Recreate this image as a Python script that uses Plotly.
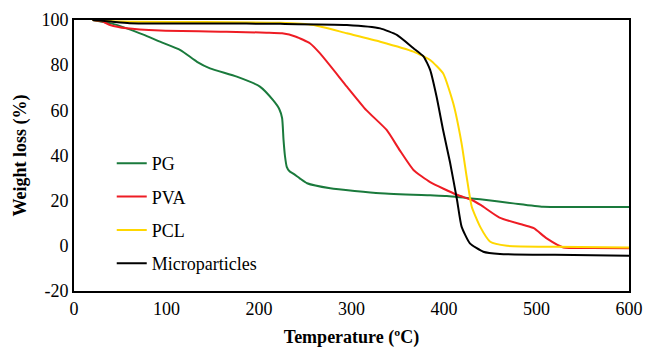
import plotly.graph_objects as go

pg_t = [20, 40, 57, 75, 93, 115, 133, 147, 176, 201, 215, 222, 225, 226.5, 228, 230, 233, 237, 244, 252, 277, 331, 385, 403, 439, 475, 507, 540, 600]
pg_w = [100, 98.5, 96.3, 93.5, 90.4, 86.7, 81.5, 78.6, 74.9, 70.5, 64.6, 60.5, 56.5, 47, 40, 35, 33, 32, 29.9, 27.7, 25.5, 23.3, 22.4, 22.1, 20.6, 18.8, 17.3, 17.2, 17.2]

pva_t = [20, 31, 39, 57, 93, 165, 208, 225, 240, 255, 266, 295, 316, 338, 352, 367, 385, 414, 430, 440, 460, 486, 497, 511, 529, 560, 600]
pva_w = [100, 99.3, 97.8, 96.3, 95.3, 94.8, 94.4, 94.1, 92.6, 89.7, 85.2, 70.5, 60.1, 51.3, 42.4, 33.6, 28.2, 22.6, 20.3, 18, 12.5, 9.2, 7.8, 3.3, -0.7, -1.0, -1.1]

pcl_t = [20, 50, 120, 223, 259, 295, 331, 367, 385, 399, 410, 419, 424.5, 430, 439, 450, 468, 520, 600]
pcl_w = [100, 99.3, 99.1, 98.8, 97.8, 94.1, 90.4, 86, 82.3, 76.4, 63.1, 45.4, 30.6, 17.3, 8.5, 1.8, 0, -0.4, -0.7]

mp_t = [20, 40, 60, 150, 223, 295, 331, 349, 367, 378, 385, 392, 399, 406.5, 414, 419, 428, 442.5, 460.5, 520, 600]
mp_w = [100, 99.3, 98.6, 98.5, 98.3, 97.8, 96.3, 93.4, 87.5, 83.8, 77.9, 66, 51.3, 37, 20.5, 8.5, 1.1, -2.6, -3.6, -4.0, -4.4]

x_ticks = [0, 100, 200, 300, 400, 500, 600]
y_ticks = [-20, 0, 20, 40, 60, 80, 100]
y_tick_text = ["-20", "0", "20", "40", "60", "80", "100"]

series = [
    ("PG", pg_t, pg_w, "#1a7a3c"),
    ("PVA", pva_t, pva_w, "#ee1c24"),
    ("PCL", pcl_t, pcl_w, "#ffd700"),
    ("Microparticles", mp_t, mp_w, "#000000"),
]

fig = go.Figure()
for i, (name, t, w, c) in enumerate(series):
    fig.add_trace(go.Scatter(
        x=t, y=w, name=name, mode="lines",
        line=dict(color=c, width=2, shape="spline", smoothing=0.5),
        legendgroup=f"g{i}",
    ))

ff = "Liberation Serif"

fig.update_layout(
    width=645, height=348,
    margin=dict(l=74, r=16, t=20, b=57),
    paper_bgcolor="white", plot_bgcolor="white",
    font=dict(family=ff, size=18, color="black"),
    showlegend=True,
    legend=dict(
        x=0.068, y=0.539, xanchor="left", yanchor="top",
        bgcolor="rgba(0,0,0,0)", borderwidth=0,
        traceorder="grouped", tracegroupgap=7,
        font=dict(family=ff, size=18, color="black"),
    ),
    xaxis=dict(
        range=[0, 600], tickvals=x_ticks, ticks="", showgrid=False, zeroline=False,
        showline=True, linecolor="black", linewidth=2, mirror=True, automargin=False,
        tickfont=dict(family=ff, size=18),
        title=dict(text="<b>Temperature (ºC)</b>", font=dict(family=ff, size=18), standoff=16),
    ),
    yaxis=dict(
        range=[-20, 100], tickvals=y_ticks, ticktext=y_tick_text, ticks="", showgrid=False, zeroline=False,
        showline=True, linecolor="black", linewidth=2, mirror=True, automargin=False,
        tickfont=dict(family=ff, size=18),
        title=dict(text="<b>Weight loss (%)</b>", font=dict(family=ff, size=18), standoff=10),
    ),
)

fig.write_html(
    "out.html",
    config={"displayModeBar": False},
    post_script="document.body.style.margin='0';document.body.style.overflow='hidden';",
)
